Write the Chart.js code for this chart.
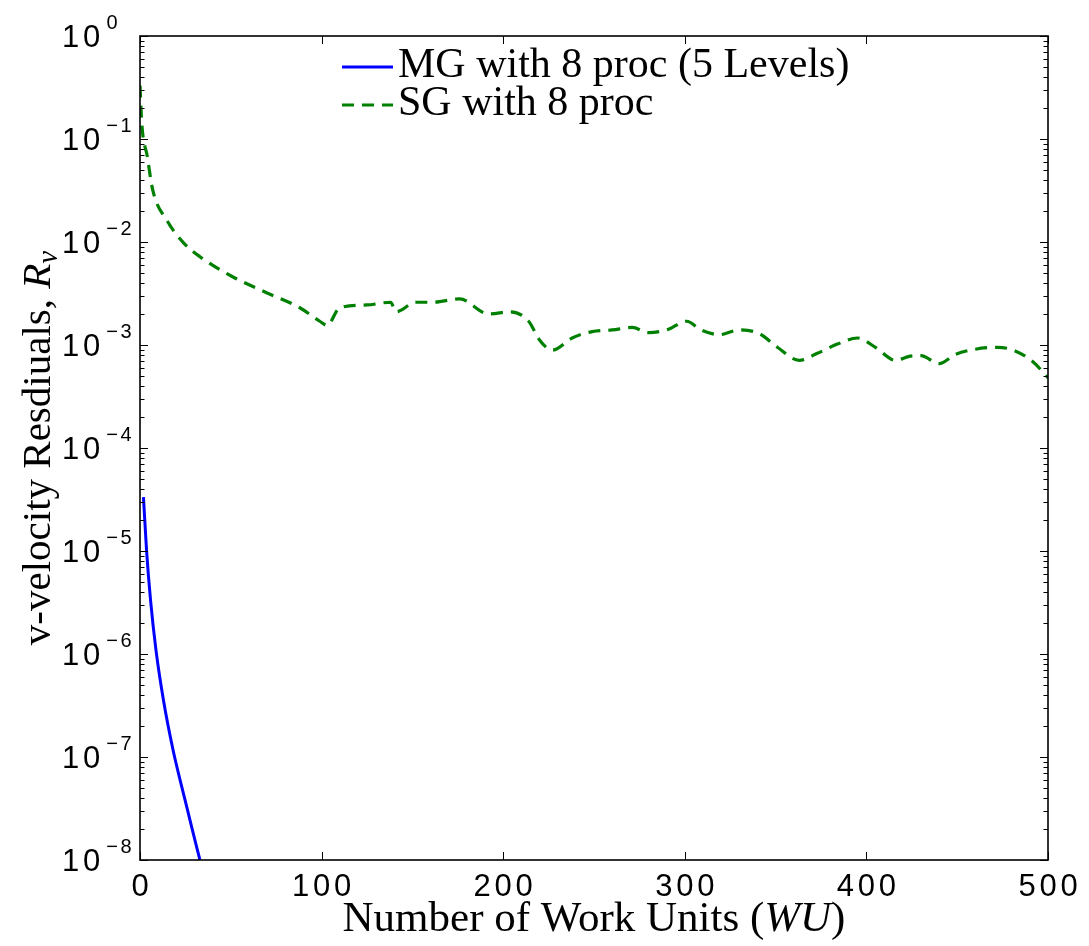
<!DOCTYPE html>
<html><head><meta charset="utf-8">
<script src="https://cdn.jsdelivr.net/npm/chart.js@4"></script>
<style>html,body{margin:0;padding:0;background:#fff}canvas{display:block}</style>
</head><body>
<canvas id="c" width="1089" height="946"></canvas>
<script>
// ---- data ----
const seriesLabels = ['MG with 8 proc (5 Levels)', 'SG with 8 proc'];
const mgX = [1.9, 3.6, 5.8, 8.8, 12.9, 18.2, 24.8, 33, 36];
const mgY = [3.34e-5, 1.02e-5, 3.34e-6, 1.09e-6, 3.57e-7, 1.17e-7, 3.83e-8, 1.0e-8, 6.4e-9];
const sgX = [0, 1, 4, 7, 15, 24, 33, 51, 70, 88, 99, 103, 110, 125, 138, 141, 152, 161, 176, 192,
  204, 214, 220, 227, 238, 249, 260, 271, 280, 290, 301, 309, 319, 330, 341, 351, 363, 373, 384,
  395, 405, 416, 424, 430, 440, 449, 460, 472, 481, 492, 500];
const sgY = [0.33, 0.14, 0.068, 0.032, 0.016, 0.0098, 0.0072, 0.0046, 0.0032, 0.0023, 0.0017, 0.00155,
  0.0023, 0.00245, 0.0026, 0.0021, 0.0026, 0.0026, 0.0028, 0.0020, 0.0021, 0.0017, 0.00112, 0.00089,
  0.00117, 0.00135, 0.0014, 0.00148, 0.00132, 0.0014, 0.0017, 0.0014, 0.00126, 0.0014, 0.00129,
  0.00095, 0.00071, 0.00083, 0.00102, 0.00117, 0.00095, 0.00071, 0.00078, 0.00079, 0.00066, 0.00081,
  0.00091, 0.00095, 0.00089, 0.00068, 0.00048];
const xTicks = [0, 100, 200, 300, 400, 500];
const yExponents = [0, -1, -2, -3, -4, -5, -6, -7, -8];
const xTitleParts = [['Number of Work Units (', false], ['WU', true], [')', false]];
const yTitleParts = [['v-velocity Resdiuals, ', false], ['R', true]];
const yTitleSub = 'v';

const pts = (xs, ys) => xs.map((x, i) => ({x: x, y: ys[i]}));

const serif = '"Liberation Serif", "DejaVu Serif", serif';
const sans = '"Liberation Sans", Arial, sans-serif';

function spaced(ctx, str, cx, cy, cell) {
  const x0 = cx - str.length * cell / 2;
  for (let i = 0; i < str.length; i++) ctx.fillText(str[i], x0 + cell * (i + 0.5), cy);
}

const decor = {
  id: 'decor',
  afterDraw(chart) {
    const ctx = chart.ctx, a = chart.chartArea;
    const xs = chart.scales.x, ys = chart.scales.y;
    ctx.save();
    ctx.strokeStyle = '#000';
    ctx.fillStyle = '#000';
    // ticks
    ctx.lineWidth = 1;
    ctx.beginPath();
    xTicks.forEach(v => {
      const px = Math.round(xs.getPixelForValue(v)) + 0.5;
      ctx.moveTo(px, a.bottom); ctx.lineTo(px, a.bottom - 8);
      ctx.moveTo(px, a.top); ctx.lineTo(px, a.top + 8);
    });
    yExponents.forEach(e => {
      const py = Math.round(ys.getPixelForValue(Math.pow(10, e))) + 0.5;
      ctx.moveTo(a.left, py); ctx.lineTo(a.left + 8, py);
      ctx.moveTo(a.right, py); ctx.lineTo(a.right - 8, py);
      if (e > -8) {
        for (let k = 2; k <= 9; k++) {
          const q = Math.round(ys.getPixelForValue(k * Math.pow(10, e - 1))) + 0.5;
          ctx.moveTo(a.left, q); ctx.lineTo(a.left + 4.5, q);
          ctx.moveTo(a.right, q); ctx.lineTo(a.right - 4.5, q);
        }
      }
    });
    ctx.stroke();
    // box
    ctx.lineWidth = 1.6;
    ctx.strokeRect(a.left, a.top, a.right - a.left, a.bottom - a.top);
    // x tick labels
    ctx.textAlign = 'center'; ctx.textBaseline = 'middle';
    ctx.font = '31px ' + sans;
    xTicks.forEach(v => spaced(ctx, String(v), xs.getPixelForValue(v), a.bottom + 27, 21));
    // y tick labels 10^e
    yExponents.forEach(e => {
      const py = ys.getPixelForValue(Math.pow(10, e));
      ctx.font = '31px ' + sans;
      spaced(ctx, '10', 81, py + 2, 21);
      ctx.font = '20px ' + sans;
      const s = e < 0 ? '\u2212' + String(-e) : String(e);
      const w = s.length * 14;
      spaced(ctx, s, 105 + w / 2, py - 13, 14);
    });
    // x title
    ctx.textAlign = 'left'; ctx.textBaseline = 'alphabetic';
    const fnt = (it, fs) => (it ? 'italic ' : '') + fs + 'px ' + serif;
    let tw = 0;
    xTitleParts.forEach(([t, it]) => { ctx.font = fnt(it, 43); tw += ctx.measureText(t).width; });
    let x = (a.left + a.right) / 2 - tw / 2;
    xTitleParts.forEach(([t, it]) => { ctx.font = fnt(it, 43); ctx.fillText(t, x, 931); x += ctx.measureText(t).width; });
    // y title (rotated)
    ctx.save();
    ctx.translate(50, (a.top + a.bottom) / 2);
    ctx.rotate(-Math.PI / 2);
    tw = 0;
    yTitleParts.forEach(([t, it]) => { ctx.font = fnt(it, 41); tw += ctx.measureText(t).width; });
    ctx.font = 'italic 29px ' + serif;
    const sw = ctx.measureText(yTitleSub).width;
    tw += sw;
    x = -tw / 2;
    yTitleParts.forEach(([t, it]) => { ctx.font = fnt(it, 41); ctx.fillText(t, x, 0); x += ctx.measureText(t).width; });
    ctx.font = 'italic 29px ' + serif;
    ctx.fillText(yTitleSub, x, 7);
    ctx.restore();
    // legend
    const rows = [67, 105];
    chart.data.datasets.forEach((ds, i) => {
      const y = rows[i];
      ctx.strokeStyle = ds.borderColor;
      ctx.lineWidth = 3;
      ctx.setLineDash(ds.borderDash || []);
      ctx.beginPath(); ctx.moveTo(342, y); ctx.lineTo(393, y); ctx.stroke();
      ctx.setLineDash([]);
      ctx.fillStyle = '#000';
      ctx.font = fnt(false, 42);
      ctx.fillText(ds.label, 398, y + 10);
    });
    ctx.restore();
  }
};

new Chart(document.getElementById('c'), {
  type: 'line',
  data: {
    datasets: [
      { label: seriesLabels[0], data: pts(mgX, mgY), borderColor: '#0000ff', borderWidth: 3,
        pointRadius: 0, fill: false, cubicInterpolationMode: 'monotone' },
      { label: seriesLabels[1], data: pts(sgX, sgY), borderColor: '#008000', borderWidth: 3.2,
        borderDash: [12, 8], pointRadius: 0, fill: false, cubicInterpolationMode: 'monotone' }
    ]
  },
  options: {
    responsive: false,
    devicePixelRatio: 1,
    animation: false,
    layout: { padding: { left: 140, right: 41, top: 36, bottom: 86 } },
    plugins: { legend: { display: false }, tooltip: { enabled: false } },
    scales: {
      x: { type: 'linear', min: 0, max: 500, display: false },
      y: { type: 'logarithmic', min: 1e-8, max: 1, display: false }
    }
  },
  plugins: [decor]
});
</script>
</body></html>
